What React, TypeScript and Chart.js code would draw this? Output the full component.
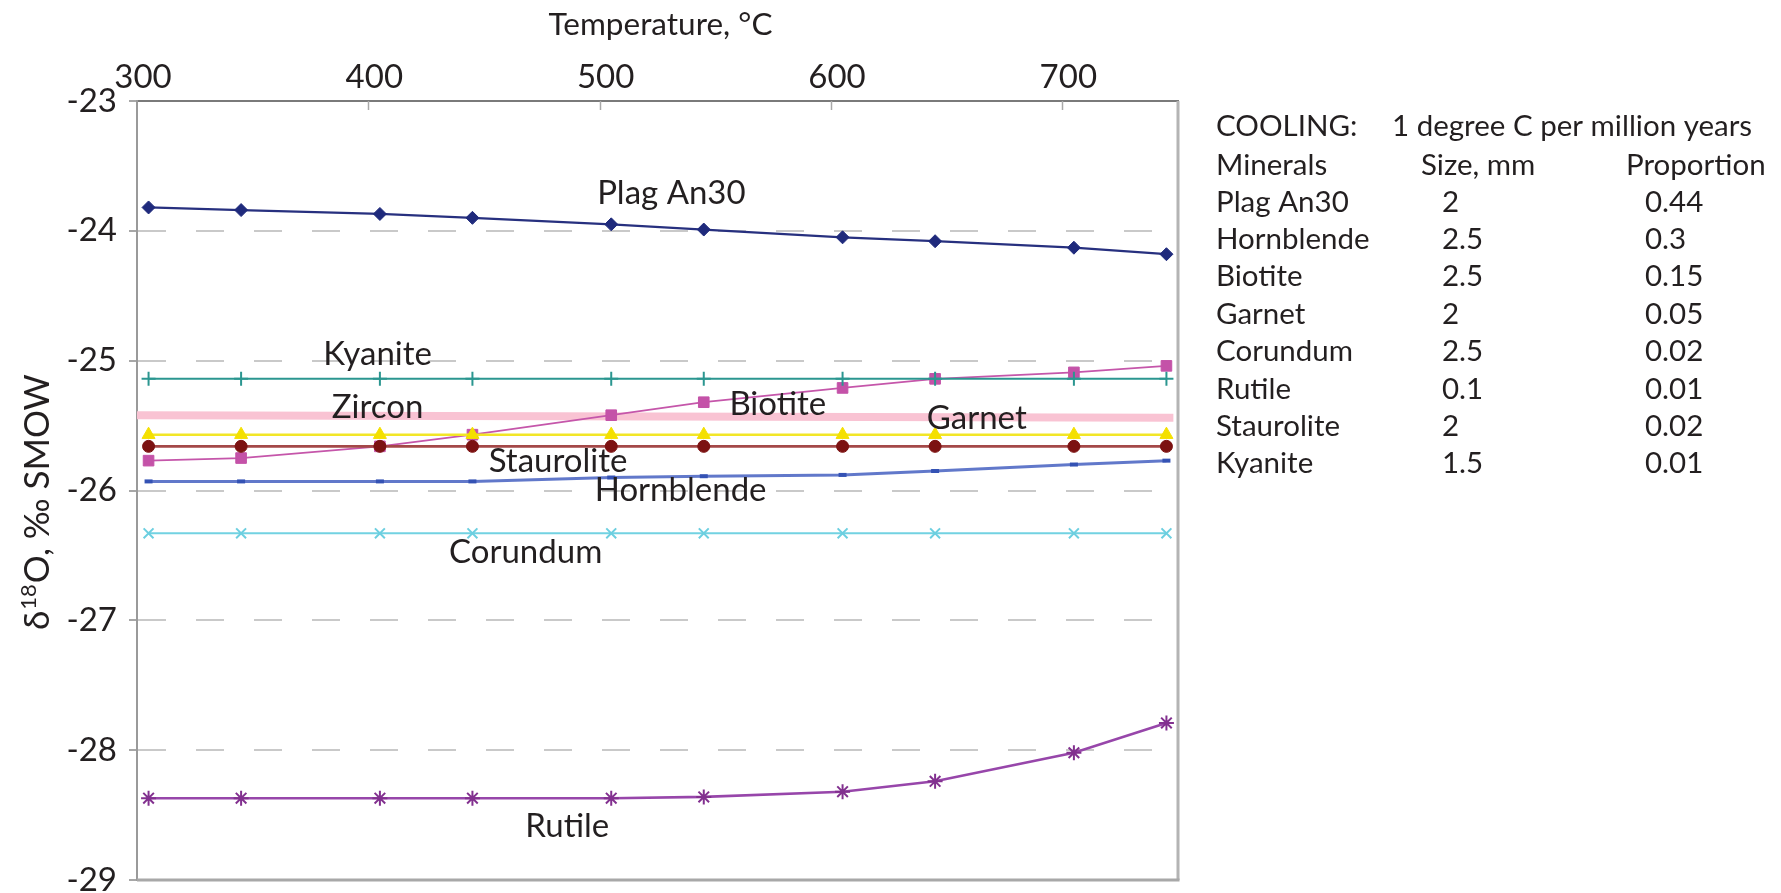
import React, { useEffect, useRef } from 'react';
import { Chart, registerables } from 'chart.js';

Chart.register(...registerables);

const FONT = 'Lato, "Noto Sans", sans-serif';
const TEXT = '#231f20';

// Temperatures (°C) at which the model was sampled
const temperatures = [305, 345, 405, 445, 505, 545, 605, 645, 705, 745];

// δ18O values, ‰ SMOW
const plagAn30 = [-23.82, -23.84, -23.87, -23.9, -23.95, -23.99, -24.05, -24.08, -24.13, -24.18];
const kyanite = [-25.14, -25.14, -25.14, -25.14, -25.14, -25.14, -25.14, -25.14, -25.14, -25.14];
const zirconTemps = [300, 748];
const zircon = [-25.42, -25.44];
const biotite = [-25.77, -25.75, -25.66, -25.57, -25.42, -25.32, -25.21, -25.14, -25.09, -25.04];
const garnet = [-25.57, -25.57, -25.57, -25.57, -25.57, -25.57, -25.57, -25.57, -25.57, -25.57];
const staurolite = [-25.66, -25.66, -25.66, -25.66, -25.66, -25.66, -25.66, -25.66, -25.66, -25.66];
const hornblende = [-25.93, -25.93, -25.93, -25.93, -25.9, -25.89, -25.88, -25.85, -25.8, -25.77];
const corundum = [-26.33, -26.33, -26.33, -26.33, -26.33, -26.33, -26.33, -26.33, -26.33, -26.33];
const rutile = [-28.37, -28.37, -28.37, -28.37, -28.37, -28.36, -28.32, -28.24, -28.02, -27.79];

// Axis ranges / ticks
const xMin = 300;
const xMax = 750;
const xStep = 100;
const yMin = -29;
const yMax = -23;
const yStep = 1;

// In-plot series labels (text, temperature, δ18O baseline)
const labelTexts = ['Plag An30', 'Kyanite', 'Zircon', 'Biotite', 'Garnet', 'Staurolite', 'Hornblende', 'Corundum', 'Rutile'];
const labelTemps = [531, 404, 404, 577, 663, 482, 535, 468, 486];
const labelValues = [-23.79, -25.03, -25.44, -25.42, -25.53, -25.86, -26.08, -26.56, -28.67];

// Side table
const coolingText = '1 degree C per million years';
const tableMinerals = ['Plag An30', 'Hornblende', 'Biotite', 'Garnet', 'Corundum', 'Rutile', 'Staurolite', 'Kyanite'];
const tableSizes = ['2', '2.5', '2.5', '2', '2.5', '0.1', '2', '1.5'];
const tableProportions = ['0.44', '0.3', '0.15', '0.05', '0.02', '0.01', '0.02', '0.01'];

const pts = (xs: number[], ys: number[]) => ys.map((v, i) => ({ x: xs[i], y: v }));

const overlayPlugin = {
  id: 'overlay',
  afterDraw(chart: any) {
    const { ctx, chartArea: a, scales } = chart;
    const xs = scales.x;
    const ys = scales.y;
    ctx.save();

    // inward x ticks
    ctx.strokeStyle = '#a8a8a8';
    ctx.lineWidth = 1.5;
    xs.ticks.forEach((t: any) => {
      if (t.value > xMin && t.value <= 700) {
        const px = Math.round(xs.getPixelForValue(t.value)) + 0.5;
        ctx.beginPath();
        ctx.moveTo(px, a.top);
        ctx.lineTo(px, a.top + 9);
        ctx.stroke();
      }
    });

    // right and bottom frame
    ctx.strokeStyle = '#b4b4b4';
    ctx.lineWidth = 3;
    ctx.beginPath();
    ctx.moveTo(a.right, a.top);
    ctx.lineTo(a.right, a.bottom);
    ctx.stroke();
    ctx.strokeStyle = '#a8a8a8';
    ctx.beginPath();
    ctx.moveTo(a.left, a.bottom);
    ctx.lineTo(a.right + 1.5, a.bottom);
    ctx.stroke();

    // series labels
    ctx.fillStyle = TEXT;
    ctx.font = `33px ${FONT}`;
    ctx.textAlign = 'center';
    ctx.textBaseline = 'alphabetic';
    labelTexts.forEach((s, i) => {
      ctx.fillText(s, xs.getPixelForValue(labelTemps[i]), ys.getPixelForValue(labelValues[i]));
    });

    // x axis title
    ctx.font = `31.5px ${FONT}`;
    ctx.fillText('Temperature, °C', (a.left + a.right) / 2 + 3, 35);

    // y axis title with superscript
    ctx.save();
    ctx.translate(49, 630);
    ctx.rotate(-Math.PI / 2);
    ctx.textAlign = 'left';
    ctx.font = `35px ${FONT}`;
    let cx = 0;
    ctx.fillText('δ', cx, 0);
    cx += ctx.measureText('δ').width;
    ctx.font = `22px ${FONT}`;
    ctx.fillText('18', cx + 1, -13);
    cx += ctx.measureText('18').width + 2;
    ctx.font = `35px ${FONT}`;
    ctx.fillText('O, ‰ SMOW', cx, 0);
    ctx.restore();

    // side table
    ctx.textAlign = 'left';
    ctx.textBaseline = 'middle';
    ctx.font = `29.5px ${FONT}`;
    ctx.fillText('COOLING:', 1216, 126);
    ctx.fillText(coolingText, 1392, 126);
    ctx.fillText('Minerals', 1216, 165);
    ctx.fillText('Size, mm', 1421, 165);
    ctx.fillText('Proportion', 1626, 165);
    tableMinerals.forEach((m, i) => {
      const yy = 202 + i * 37.4;
      ctx.fillText(m, 1216, yy);
      ctx.fillText(tableSizes[i], 1442, yy);
      ctx.fillText(tableProportions[i], 1645, yy);
    });

    ctx.restore();
  },
};

export default function App() {
  const canvasRef = useRef<HTMLCanvasElement | null>(null);

  useEffect(() => {
    document.body.style.margin = '0';
    const canvas = canvasRef.current;
    if (!canvas) return;

    const datasets: any[] = [
      {
        label: 'Plag An30',
        data: pts(temperatures, plagAn30),
        borderColor: '#27307f',
        borderWidth: 2.2,
        pointStyle: 'rectRot',
        pointRadius: 6.5,
        pointBackgroundColor: '#1f2a7c',
        pointBorderColor: '#1f2a7c',
        pointBorderWidth: 1,
      },
      {
        label: 'Kyanite',
        data: pts(temperatures, kyanite),
        borderColor: '#2b9690',
        borderWidth: 2,
        pointStyle: 'cross',
        pointRadius: 7,
        pointBorderColor: '#2b9690',
        pointBorderWidth: 2,
      },
      {
        label: 'Garnet',
        data: pts(temperatures, garnet),
        borderColor: '#f2e626',
        borderWidth: 2.5,
        pointStyle: 'triangle',
        pointRadius: 7.5,
        pointBackgroundColor: '#f4e000',
        pointBorderColor: '#f4e000',
        pointBorderWidth: 1,
      },
      {
        label: 'Staurolite',
        data: pts(temperatures, staurolite),
        borderColor: '#a44848',
        borderWidth: 2.8,
        pointStyle: 'circle',
        pointRadius: 6,
        pointBackgroundColor: '#7c1212',
        pointBorderColor: '#7c1212',
        pointBorderWidth: 1,
      },
      {
        label: 'Biotite',
        data: pts(temperatures, biotite),
        borderColor: '#c556aa',
        borderWidth: 1.8,
        pointStyle: 'rect',
        pointRadius: 7.5,
        pointBackgroundColor: '#c452a8',
        pointBorderColor: '#c452a8',
        pointBorderWidth: 1,
      },
      {
        label: 'Hornblende',
        data: pts(temperatures, hornblende),
        borderColor: 'rgba(62,90,190,0.82)',
        borderWidth: 3,
        pointStyle: 'line',
        pointRadius: 4,
        pointBorderColor: '#3452b4',
        pointBorderWidth: 4,
      },
      {
        label: 'Corundum',
        data: pts(temperatures, corundum),
        borderColor: '#72d2e2',
        borderWidth: 2,
        pointStyle: 'crossRot',
        pointRadius: 7,
        pointBorderColor: '#6ccfe0',
        pointBorderWidth: 2,
      },
      {
        label: 'Rutile',
        data: pts(temperatures, rutile),
        borderColor: '#9746aa',
        borderWidth: 2.6,
        pointStyle: 'star',
        pointRadius: 7.5,
        pointBorderColor: '#82308f',
        pointBorderWidth: 2,
      },
      {
        label: 'Zircon',
        data: pts(zirconTemps, zircon),
        borderColor: '#f9c3d3',
        borderWidth: 8,
        pointRadius: 0,
      },
    ];

    const chart = new Chart(canvas, {
      type: 'line',
      data: { datasets },
      plugins: [overlayPlugin],
      options: {
        animation: false,
        responsive: true,
        maintainAspectRatio: false,
        events: [],
        layout: { padding: { top: 0, left: 0, right: 603, bottom: 13 } },
        elements: { line: { tension: 0, fill: false } },
        datasets: { line: { clip: false } } as any,
        plugins: {
          legend: { display: false },
          tooltip: { enabled: false },
        },
        scales: {
          x: {
            type: 'linear',
            position: 'top',
            min: xMin,
            max: xMax,
            afterFit: (s: any) => {
              s.height = 101;
              s.paddingLeft = 0;
              s.paddingRight = 0;
            },
            afterBuildTicks: (s: any) => {
              s.ticks = s.ticks.filter((t: any) => t.value <= 700);
            },
            ticks: {
              stepSize: xStep,
              padding: 4,
              labelOffset: 6,
              maxRotation: 0,
              color: TEXT,
              font: { family: FONT, size: 33 },
            },
            grid: { display: true, drawOnChartArea: false, drawTicks: false },
            border: { display: true, color: '#7a7a7a', width: 2 },
          },
          y: {
            type: 'linear',
            min: yMin,
            max: yMax,
            afterFit: (s: any) => {
              s.width = 137;
              s.paddingTop = 0;
              s.paddingBottom = 0;
            },
            ticks: {
              stepSize: yStep,
              padding: 12,
              color: TEXT,
              font: { family: FONT, size: 33 },
            },
            grid: {
              color: (c: any) =>
                c.tick && (c.tick.value === yMin || c.tick.value === yMax) ? 'rgba(0,0,0,0)' : '#c9c9c9',
              lineWidth: 2,
              tickLength: 8,
              tickColor: '#8a8a8a',
              tickWidth: 1.5,
            },
            border: { display: true, color: '#9a9a9a', width: 2, dash: [28, 30] },
          },
        },
      },
    });

    return () => chart.destroy();
  }, []);

  return (
    <div style={{ position: 'relative', width: '1781px', height: '893px', background: '#ffffff' }}>
      <canvas ref={canvasRef} />
    </div>
  );
}
